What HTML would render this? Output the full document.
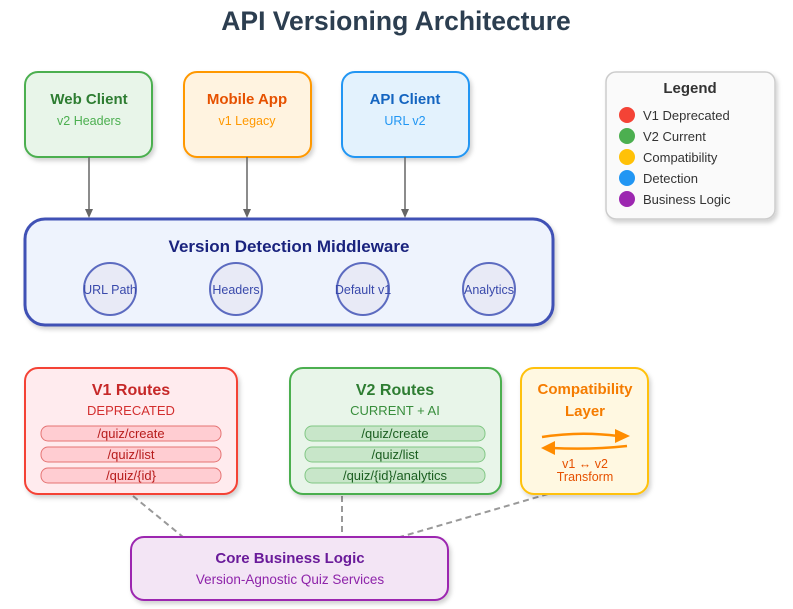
<!DOCTYPE html>
<html><head><meta charset="utf-8"><style>
html,body{margin:0;padding:0;background:#fff;}
svg{display:block;font-family:"Liberation Sans",Arial,sans-serif;}
</style></head><body>
<svg width="793" height="609" viewBox="0 0 793 609" xmlns="http://www.w3.org/2000/svg">
<defs>
<filter id="sh" x="-10%" y="-10%" width="130%" height="130%"><feDropShadow dx="2" dy="3" stdDeviation="2" flood-color="#000" flood-opacity="0.18"/></filter>
</defs>
<text x="396" y="30" text-anchor="middle" font-size="26.5" font-weight="bold" fill="#2c3e50">API Versioning Architecture</text>

<!-- clients -->
<rect x="25" y="72" width="127" height="85" rx="13" fill="#e8f5e9" stroke="#4caf50" stroke-width="2" filter="url(#sh)"/>
<text x="89" y="104" text-anchor="middle" font-size="15" font-weight="bold" fill="#2e7d32">Web Client</text>
<text x="89" y="125" text-anchor="middle" font-size="12.5" fill="#4caf50">v2 Headers</text>
<rect x="184" y="72" width="127" height="85" rx="13" fill="#fff3e0" stroke="#ff9800" stroke-width="2" filter="url(#sh)"/>
<text x="247" y="104" text-anchor="middle" font-size="15" font-weight="bold" fill="#e65100">Mobile App</text>
<text x="247" y="125" text-anchor="middle" font-size="12.5" fill="#ff9800">v1 Legacy</text>
<rect x="342" y="72" width="127" height="85" rx="13" fill="#e3f2fd" stroke="#2196f3" stroke-width="2" filter="url(#sh)"/>
<text x="405" y="104" text-anchor="middle" font-size="15" font-weight="bold" fill="#1565c0">API Client</text>
<text x="405" y="125" text-anchor="middle" font-size="12.5" fill="#2196f3">URL v2</text>

<g stroke="#666" stroke-width="1.5">
<line x1="89" y1="157" x2="89" y2="210"/><line x1="247" y1="157" x2="247" y2="210"/><line x1="405" y1="157" x2="405" y2="210"/>
</g>
<g fill="#666">
<path d="M85,209 L93,209 L89,218 Z"/><path d="M243,209 L251,209 L247,218 Z"/><path d="M401,209 L409,209 L405,218 Z"/>
</g>

<!-- middleware -->
<rect x="25" y="219" width="528" height="106" rx="20" fill="#eef3fd" stroke="#3f51b5" stroke-width="3" filter="url(#sh)"/>
<text x="289" y="252" text-anchor="middle" font-size="17" font-weight="bold" fill="#1a237e">Version Detection Middleware</text>
<g fill="#e8eaf6" stroke="#5c6bc0" stroke-width="2">
<circle cx="110" cy="289" r="26"/><circle cx="236" cy="289" r="26"/><circle cx="363" cy="289" r="26"/><circle cx="489" cy="289" r="26"/>
</g>
<g font-size="12.5" fill="#3949ab" text-anchor="middle">
<text x="110" y="294">URL Path</text><text x="236" y="294">Headers</text><text x="363" y="294">Default v1</text><text x="489" y="294">Analytics</text>
</g>

<!-- legend -->
<rect x="606" y="72" width="169" height="147" rx="10" fill="#fafafa" stroke="#ccc" stroke-width="1.5" filter="url(#sh)"/>
<text x="690" y="93" text-anchor="middle" font-size="15" font-weight="bold" fill="#333">Legend</text>
<circle cx="627" cy="115" r="8" fill="#f44336"/><text x="643" y="120" font-size="13" fill="#333">V1 Deprecated</text>
<circle cx="627" cy="136" r="8" fill="#4caf50"/><text x="643" y="141" font-size="13" fill="#333">V2 Current</text>
<circle cx="627" cy="157" r="8" fill="#ffc107"/><text x="643" y="162" font-size="13" fill="#333">Compatibility</text>
<circle cx="627" cy="178" r="8" fill="#2196f3"/><text x="643" y="183" font-size="13" fill="#333">Detection</text>
<circle cx="627" cy="199" r="8" fill="#9c27b0"/><text x="643" y="204" font-size="13" fill="#333">Business Logic</text>

<!-- dashed -->
<g stroke="#999" stroke-width="2" stroke-dasharray="6,4">
<line x1="133" y1="496" x2="183" y2="537"/><line x1="342" y1="496" x2="342" y2="537"/><line x1="548" y1="494" x2="400" y2="537"/>
</g>

<!-- V1 -->
<rect x="25" y="368" width="212" height="126" rx="13" fill="#ffebee" stroke="#f44336" stroke-width="2" filter="url(#sh)"/>
<text x="131" y="395" text-anchor="middle" font-size="16" font-weight="bold" fill="#c62828">V1 Routes</text>
<text x="131" y="415" text-anchor="middle" font-size="13" fill="#d32f2f">DEPRECATED</text>
<g fill="#ffcdd2" stroke="#e57373" stroke-width="1">
<rect x="41" y="426" width="180" height="15" rx="7"/><rect x="41" y="447" width="180" height="15" rx="7"/><rect x="41" y="468" width="180" height="15" rx="7"/>
</g>
<g font-size="13" fill="#b71c1c" text-anchor="middle">
<text x="131" y="438">/quiz/create</text><text x="131" y="459">/quiz/list</text><text x="131" y="480">/quiz/{id}</text>
</g>

<!-- V2 -->
<rect x="290" y="368" width="211" height="126" rx="13" fill="#e8f5e9" stroke="#4caf50" stroke-width="2" filter="url(#sh)"/>
<text x="395" y="395" text-anchor="middle" font-size="16" font-weight="bold" fill="#2e7d32">V2 Routes</text>
<text x="395" y="415" text-anchor="middle" font-size="13" fill="#388e3c">CURRENT + AI</text>
<g fill="#c8e6c9" stroke="#81c784" stroke-width="1">
<rect x="305" y="426" width="180" height="15" rx="7"/><rect x="305" y="447" width="180" height="15" rx="7"/><rect x="305" y="468" width="180" height="15" rx="7"/>
</g>
<g font-size="13" fill="#1b5e20" text-anchor="middle">
<text x="395" y="438">/quiz/create</text><text x="395" y="459">/quiz/list</text><text x="395" y="480">/quiz/{id}/analytics</text>
</g>

<!-- compat -->
<rect x="521" y="368" width="127" height="126" rx="13" fill="#fff8e1" stroke="#ffc107" stroke-width="2" filter="url(#sh)"/>
<text x="585" y="394" text-anchor="middle" font-size="15" font-weight="bold" fill="#f57c00">Compatibility</text>
<text x="585" y="416" text-anchor="middle" font-size="15" font-weight="bold" fill="#f57c00">Layer</text>
<path d="M542,437 Q580,431 618,436" fill="none" stroke="#ff8c00" stroke-width="2.5"/>
<path d="M615,429 L630,436 L615,443 Z" fill="#ff8c00"/>
<path d="M627,446 Q590,450 552,448" fill="none" stroke="#ff8c00" stroke-width="2.5"/>
<path d="M555,441 L541,448 L555,455 Z" fill="#ff8c00"/>
<text x="585" y="468" text-anchor="middle" font-size="12.5" fill="#e65100">v1 ↔ v2</text>
<text x="585" y="481" text-anchor="middle" font-size="12.5" fill="#e65100">Transform</text>

<!-- core -->
<rect x="131" y="537" width="317" height="63" rx="13" fill="#f3e5f5" stroke="#9c27b0" stroke-width="2" filter="url(#sh)"/>
<text x="290" y="563" text-anchor="middle" font-size="15" font-weight="bold" fill="#6a1b9a">Core Business Logic</text>
<text x="290" y="584" text-anchor="middle" font-size="13.5" fill="#8e24aa">Version-Agnostic Quiz Services</text>
</svg>
</body></html>
